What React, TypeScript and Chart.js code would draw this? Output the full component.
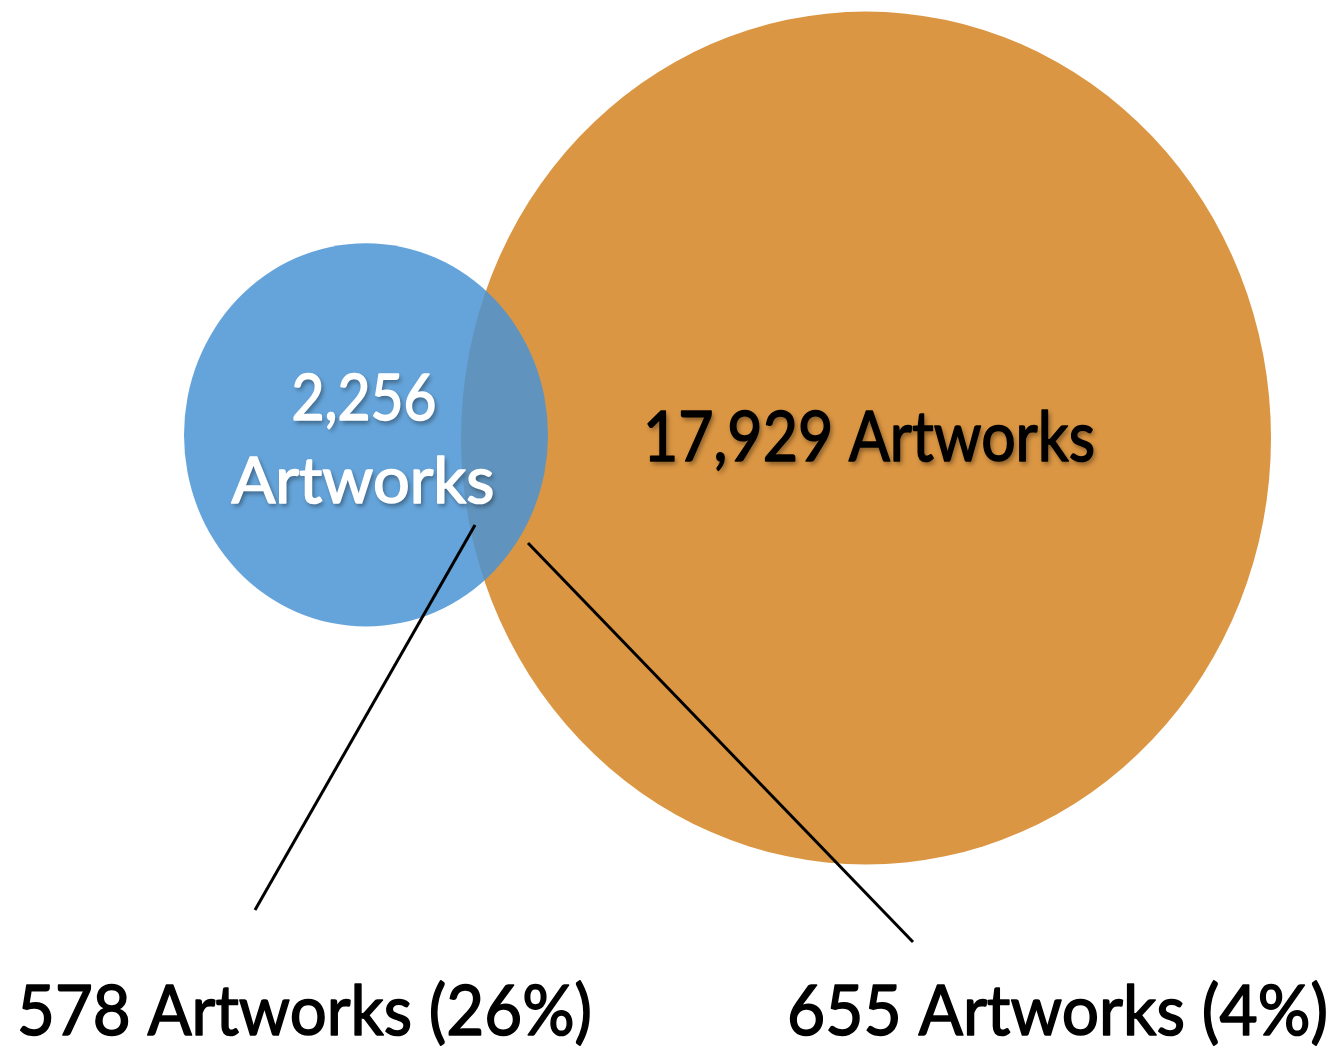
import React, { useEffect, useRef } from "react";
import { Chart, registerables } from "chart.js";

Chart.register(...registerables);

// ---- data (scale units: x = px, y = up, 1 unit = 1.053 px) ----
const setNames = ["Set A", "Set B"];
const setCounts = [2256, 17929];
const circleX = [366, 866];
const circleY = [587, 584];
const circleR = [182, 405];
const circleColors = ["rgba(74,148,212,0.85)", "#DB9643"];

const overlapLabels = ["578 Artworks (26%)", "655 Artworks (4%)"];
const leaderFromX = [475, 528];
const leaderFromY = [501.4, 484.3];
const leaderToX = [255, 913];
const leaderToY = [135.8, 105.4];

const FONT = "Lato, 'Open Sans', sans-serif";

type TextItem = {
  text: string;
  x: number; // data units
  y: number; // data units (baseline)
  w: number; // target width in px
  size: number;
  color: string;
  align: "left" | "center";
  shadow?: string;
};

const textItems: TextItem[] = [
  { text: "2,256", x: 364, y: 601, w: 145, size: 63, color: "#ffffff", align: "center", shadow: "rgba(0,0,0,0.45)" },
  { text: "Artworks", x: 363, y: 522, w: 263, size: 63, color: "#ffffff", align: "center", shadow: "rgba(0,0,0,0.45)" },
  { text: "17,929 Artworks", x: 869, y: 562, w: 452, size: 70, color: "#000000", align: "center", shadow: "rgba(0,0,0,0.45)" },
  { text: overlapLabels[0], x: 17, y: 17, w: 575, size: 70, color: "#000000", align: "left" },
  { text: overlapLabels[1], x: 787, y: 17, w: 541, size: 70, color: "#000000", align: "left" },
];

const vennPlugin = {
  id: "vennCircles",
  beforeDatasetsDraw(chart: any) {
    const { ctx } = chart;
    const xs = chart.scales.x;
    const ys = chart.scales.y;
    const order = [1, 0];
    ctx.save();
    for (const i of order) {
      const px = xs.getPixelForValue(circleX[i]);
      const py = ys.getPixelForValue(circleY[i]);
      const rx = Math.abs(xs.getPixelForValue(circleX[i] + circleR[i]) - px);
      const ry = Math.abs(ys.getPixelForValue(circleY[i] + circleR[i]) - py);
      ctx.beginPath();
      ctx.ellipse(px, py, rx, ry, 0, 0, Math.PI * 2);
      ctx.fillStyle = circleColors[i];
      ctx.fill();
    }
    ctx.restore();
  },
  afterDatasetsDraw(chart: any) {
    const { ctx } = chart;
    const xs = chart.scales.x;
    const ys = chart.scales.y;
    for (const t of textItems) {
      ctx.save();
      ctx.font = `${t.size}px ${FONT}`;
      ctx.textBaseline = "alphabetic";
      ctx.textAlign = "left";
      const m = ctx.measureText(t.text).width;
      const sx = t.w / m;
      const px = xs.getPixelForValue(t.x);
      const py = ys.getPixelForValue(t.y);
      const left = t.align === "center" ? px - t.w / 2 : px;
      ctx.translate(left, py);
      ctx.scale(sx, 1);
      if (t.shadow) {
        ctx.shadowColor = t.shadow;
        ctx.shadowBlur = 5;
        ctx.shadowOffsetX = 2;
        ctx.shadowOffsetY = 3;
      }
      ctx.fillStyle = t.color;
      ctx.strokeStyle = t.color;
      ctx.lineWidth = 1.6;
      ctx.lineJoin = "round";
      ctx.fillText(t.text, 0, 0);
      ctx.shadowColor = "transparent";
      ctx.strokeText(t.text, 0, 0);
      ctx.restore();
    }
  },
};

export default function App() {
  const ref = useRef<HTMLCanvasElement>(null);
  useEffect(() => {
    document.body.style.margin = "0";
    document.body.style.overflow = "hidden";
    const canvas = ref.current!;
    const datasets: any[] = [
      {
        label: "sets",
        data: setNames.map((n, i) => ({ x: circleX[i], y: circleY[i], name: n, count: setCounts[i] })),
        pointRadius: 0,
        showLine: false,
      },
      ...overlapLabels.map((lab, i) => ({
        label: lab,
        data: [
          { x: leaderFromX[i], y: leaderFromY[i] },
          { x: leaderToX[i], y: leaderToY[i] },
        ],
        showLine: true,
        borderColor: "#000000",
        borderWidth: 3,
        pointRadius: 0,
        fill: false,
      })),
    ];
    const chart = new Chart(canvas, {
      type: "scatter",
      data: { datasets },
      options: {
        animation: false,
        responsive: false,
        devicePixelRatio: 1,
        layout: { padding: 0 },
        plugins: { legend: { display: false }, tooltip: { enabled: false }, title: { display: false } },
        scales: {
          x: { type: "linear", min: 0, max: 1333, display: false },
          y: { type: "linear", min: 0, max: 1000, display: false },
        },
      },
      plugins: [vennPlugin],
    });
    return () => chart.destroy();
  }, []);
  return (
    <div style={{ width: 1333, height: 1053, background: "#ffffff" }}>
      <canvas ref={ref} width={1333} height={1053} style={{ display: "block" }} />
    </div>
  );
}
